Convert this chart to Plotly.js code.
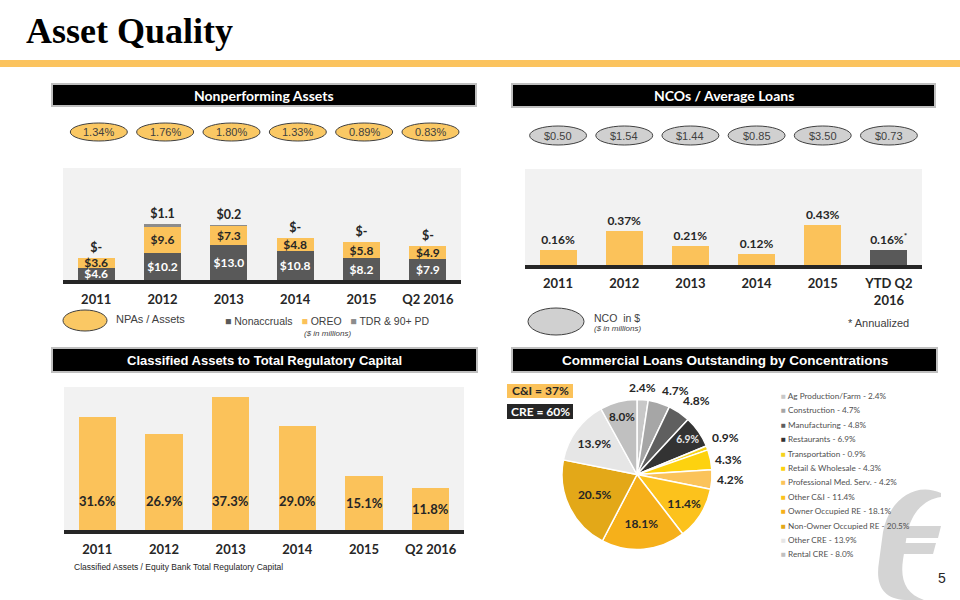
<!DOCTYPE html>
<html><head><meta charset="utf-8">
<script src="https://cdn.plot.ly/plotly-3.0.1.min.js"></script>
<style>body{margin:0;background:#fff}#chart{width:960px;height:600px}</style>
</head><body><div id="chart"></div>
<script>
// ---------- DATA ----------
const years = ['2011','2012','2013','2014','2015','Q2 2016'];
const ncoYears = ['2011','2012','2013','2014','2015','YTD Q2<br>2016'];
const npaRatio = ['1.34%','1.76%','1.80%','1.33%','0.89%','0.83%'];
const nonaccruals = [4.6,10.2,13.0,10.8,8.2,7.9];
const oreo = [3.6,9.6,7.3,4.8,5.8,4.9];
const tdr = [0,1.1,0.2,0,0,0];
const ncoDollars = ['$0.50','$1.54','$1.44','$0.85','$3.50','$0.73'];
const ncoPct = [0.16,0.37,0.21,0.12,0.43,0.16];
const classified = [31.6,26.9,37.3,29.0,15.1,11.8];
const pieLabels = ['Ag Production/Farm','Construction','Manufacturing','Restaurants','Transportation','Retail & Wholesale','Professional Med. Serv.','Other C&I','Owner Occupied RE','Non-Owner Occupied RE','Other CRE','Rental CRE'];
const pieValues = [2.4,4.7,4.8,6.9,0.9,4.3,4.2,11.4,18.1,20.5,13.9,8.0];
const pieColors = ['#c8c8c8','#a6a6a6','#5f5f5f','#333333','#f5d31c','#fdd20f','#fbc35a','#fcc21c','#f6b01a','#e3a818','#e6e6e6','#c0c0c0'];
const pieInside = [false,false,false,true,false,false,false,true,true,true,true,true];

// ---------- HELPERS ----------
const W = 960, H = 600;
const px = x => x / W;
const py = y => 1 - y / H;
const ORANGE = '#fbc25a';
const DARK = '#262626';
const fmt1 = v => v === 0 ? '$-' : '$' + v.toFixed(1);
const boldFont = (size, color) => ({family: 'Lato, Arial', size: size, color: color, weight: 'bold'});
const arial = (size, color, extra) => Object.assign({family:'Liberation Sans, Arial', size:size, color:color}, extra || {});

// pie geometry (domain in pixels)
const PIE = {x0:562, x1:712, y0:399, y1:550};
const pieCx = (PIE.x0 + PIE.x1) / 2, pieCy = (PIE.y0 + PIE.y1) / 2, pieR = (PIE.x1 - PIE.x0) / 2;

// ---------- TRACES ----------
const traces = [
  {type:'bar', x: years, y: nonaccruals, name:'Nonaccruals', xaxis:'x', yaxis:'y',
   marker:{color:'#595959'}, text: nonaccruals.map(fmt1), textposition:'inside', insidetextanchor:'middle',
   constraintext:'none', textangle:0, textfont: boldFont(12,'#ffffff'), hoverinfo:'skip', showlegend:false},
  {type:'bar', x: years, y: oreo, name:'OREO', xaxis:'x', yaxis:'y',
   marker:{color:ORANGE}, text: oreo.map(fmt1), textposition:'inside', insidetextanchor:'middle',
   constraintext:'none', textangle:0, textfont: boldFont(12,DARK), hoverinfo:'skip', showlegend:false},
  {type:'bar', x: years, y: tdr, name:'TDR & 90+ PD', xaxis:'x', yaxis:'y',
   marker:{color:'#8c8c8c'}, text: tdr.map(fmt1), textposition:'outside',
   constraintext:'none', textangle:0, textfont: boldFont(12.5,DARK), cliponaxis:false, hoverinfo:'skip', showlegend:false},
  {type:'bar', x: ncoYears, y: ncoPct, xaxis:'x2', yaxis:'y2',
   marker:{color: ncoPct.map((v,i)=> i === ncoPct.length-1 ? '#595959' : ORANGE)},
   text: ncoPct.map((v,i)=> v.toFixed(2) + '%' + (i === ncoPct.length-1 ? '<sup>*</sup>' : '')),
   textposition:'outside', constraintext:'none', textangle:0, textfont: boldFont(12,DARK), cliponaxis:false,
   hoverinfo:'skip', showlegend:false},
  {type:'bar', x: years, y: classified, xaxis:'x3', yaxis:'y3',
   marker:{color:ORANGE}, hoverinfo:'skip', showlegend:false},
  {type:'pie', labels: pieLabels, values: pieValues, sort:false, direction:'clockwise', rotation:0,
   domain:{x:[px(PIE.x0), px(PIE.x1)], y:[py(PIE.y1), py(PIE.y0)]},
   marker:{colors: pieColors, line:{color:'#ffffff', width:1.5}},
   text: pieValues.map(v => v.toFixed(1) + '%'), textinfo:'text',
   textposition: pieInside.map(b => b ? 'inside' : 'none'),
   insidetextorientation:'horizontal',
   insidetextfont: {family:'Lato, Arial', size:12, weight:'bold', color: pieColors.map(c => c === '#333333' ? '#e8e8e8' : DARK)},
   hoverinfo:'skip', showlegend:false}
];

// ---------- LAYOUT ----------
const xCommon = {type:'category', range:[-0.5,5.5], showline:true, linewidth:4, linecolor:DARK,
  ticks:'', showgrid:false, zeroline:false, fixedrange:true, tickfont: boldFont(13, DARK), ticklabelstandoff:4};
const yCommon = {showgrid:false, zeroline:false, showticklabels:false, showline:false, ticks:'', fixedrange:true};

const shapes = [];
const annotations = [];
const note = (o) => annotations.push(Object.assign({xref:'paper', yref:'paper', showarrow:false, xanchor:'center', yanchor:'middle'}, o));

// title + rule
note({text:'Asset Quality', x:px(24), y:py(31), xanchor:'left', font:{family:'Liberation Serif, serif', size:36, color:'#000', weight:'bold'}});
shapes.push({type:'rect', xref:'paper', yref:'paper', x0:0, x1:1, y0:py(67), y1:py(60), fillcolor:'#fbc35e', line:{width:0}});

// headers
const headers = [
  {t:'Nonperforming Assets', x0:52, x1:476, y0:84, y1:106, f:'Lato, Arial', s:14},
  {t:'NCOs / Average Loans', x0:512, x1:935, y0:84, y1:107, f:'Lato, Arial', s:14},
  {t:'Classified Assets to Total Regulatory Capital', x0:52, x1:477, y0:348, y1:372, f:'Liberation Sans, Arial', s:13},
  {t:'Commercial Loans Outstanding by Concentrations', x0:512, x1:937, y0:348, y1:372, f:'Liberation Sans, Arial', s:13.5}
];
headers.forEach(h => {
  shapes.push({type:'rect', xref:'paper', yref:'paper', x0:px(h.x0), x1:px(h.x1), y0:py(h.y1), y1:py(h.y0),
    fillcolor:'#000', line:{color:'#bfbfbf', width:2}});
  note({text:h.t, x:px((h.x0+h.x1)/2), y:py((h.y0+h.y1)/2), font:{family:h.f, size:h.s, color:'#fff', weight:'bold'}});
});

// NPA ellipses
npaRatio.forEach((t,i) => {
  shapes.push({type:'circle', xref:'x', yref:'paper', x0:i-0.43+0.04, x1:i+0.43+0.04, y0:py(141), y1:py(123),
    fillcolor:'#fac864', line:{color:'#404040', width:1}});
  note({text:t, xref:'x', x:i+0.04, y:py(132), font: arial(11,'#404040')});
});
// NCO ellipses
ncoDollars.forEach((t,i) => {
  shapes.push({type:'circle', xref:'x2', yref:'paper', x0:i-0.43, x1:i+0.43, y0:py(145), y1:py(126),
    fillcolor:'#d0d0d0', line:{color:'#404040', width:1}});
  note({text:t, xref:'x2', x:i, y:py(135.5), font: arial(11,'#404040')});
});

// NPA legend
shapes.push({type:'circle', xref:'paper', yref:'paper', x0:px(63), x1:px(107), y0:py(331), y1:py(310), fillcolor:'#fac864', line:{color:'#404040', width:1}});
note({text:'NPAs / Assets', x:px(114), y:py(319), xanchor:'left', font: arial(11,'#404040')});
const npaSeries = [['Nonaccruals','#595959'],['OREO',ORANGE],['TDR & 90+ PD','#8c8c8c']];
note({text: npaSeries.map(s => '<span style="color:'+s[1]+'">■</span> ' + s[0]).join('   '),
  x:px(223), y:py(321), xanchor:'left', font: arial(10.5,'#404040')});
note({text:'($ in millions)', x:px(327), y:py(333), font: arial(8,'#404040',{style:'italic'})});

// NCO legend
shapes.push({type:'circle', xref:'paper', yref:'paper', x0:px(528), x1:px(584), y0:py(335), y1:py(308), fillcolor:'#d0d0d0', line:{color:'#404040', width:1}});
note({text:'NCO  in $', x:px(592), y:py(318), xanchor:'left', font: arial(10.5,'#404040')});
note({text:'($ in millions)', x:px(592), y:py(328), xanchor:'left', font: arial(8,'#404040',{style:'italic'})});
note({text:'* Annualized', x:px(846), y:py(323), xanchor:'left', font: arial(11,'#404040')});

// Classified labels (inside bars, near base)
classified.forEach((v,i) => {
  note({text: v.toFixed(1) + '%', xref:'x3', yref:'y3', x:i, y:Math.min(v/2, 8), font: boldFont(13, DARK)});
});
note({text:'Classified Assets / Equity Bank Total Regulatory Capital', x:px(72), y:py(567), xanchor:'left', font: arial(8.5,'#262626')});

// C&I / CRE boxes
shapes.push({type:'rect', xref:'paper', yref:'paper', x0:px(507), x1:px(573), y0:py(398), y1:py(384), fillcolor:'#fbc25a', line:{width:0}});
shapes.push({type:'rect', xref:'paper', yref:'paper', x0:px(507), x1:px(573), y0:py(419), y1:py(404), fillcolor:'#262626', line:{width:0}});
note({text:'C&I = 37%', x:px(540), y:py(391), font: boldFont(12, DARK)});
note({text:'CRE = 60%', x:px(540), y:py(411.5), font: boldFont(12, '#ffffff')});

// Pie outside labels (small slices), placed just outside each slice's mid-angle
const pieTotal = pieValues.reduce((a,b)=>a+b, 0);
let cum = 0;
pieValues.forEach((v,i) => {
  const th = 2 * Math.PI * (cum + v/2) / pieTotal;
  cum += v;
  if (pieInside[i]) return;
  const s = Math.sin(th), c = Math.cos(th);
  const r = pieR + 3;
  note({text: v.toFixed(1) + '%', x: px(pieCx + r * s), y: py(pieCy - r * c),
    xanchor: Math.abs(s) < 0.17 ? 'center' : (s > 0 ? 'left' : 'right'),
    yanchor: c > 0.3 ? 'bottom' : (c < -0.3 ? 'top' : 'middle'),
    font: boldFont(12, DARK)});
});

// Pie legend
pieLabels.forEach((l,i) => {
  note({text:'<span style="color:'+pieColors[i]+'">■</span> ' + l + ' - ' + pieValues[i].toFixed(1) + '%',
    x:px(779), y:py(396 + i*14.4), xanchor:'left', font:{family:'Lato, Arial', size:8.2, color:'#505050'}});
});

// Logo watermark (stylised slanted "e")
const P = (x,y) => px(x).toFixed(4) + ',' + py(y).toFixed(4);
const LOGO = '#d4d4d4';
shapes.push({type:'path', xref:'paper', yref:'paper', layer:'below', fillcolor:LOGO, line:{width:0},
  path:'M'+P(941,493)+' C'+P(915,481)+' '+P(889,500)+' '+P(883,532)+' L'+P(879,562)+' C'+P(875,586)+' '+P(884,599)+' '+P(905,600)+
       ' L'+P(924,600)+' C'+P(906,594)+' '+P(900,580)+' '+P(903,560)+' L'+P(907,534)+' C'+P(912,510)+' '+P(926,499)+' '+P(941,497)+' Z'});
shapes.push({type:'path', xref:'paper', yref:'paper', layer:'below', fillcolor:LOGO, line:{width:0},
  path:'M'+P(888,526)+' L'+P(941,526)+' L'+P(938,538)+' L'+P(885,538)+' Z'});
shapes.push({type:'path', xref:'paper', yref:'paper', layer:'below', fillcolor:LOGO, line:{width:0},
  path:'M'+P(884,543)+' L'+P(936,543)+' L'+P(933,554)+' L'+P(881,554)+' Z'});
note({text:'5', x:px(942), y:py(578), font: arial(14,'#262626')});

const layout = {
  width: W, height: H, margin:{l:0, r:0, t:0, b:0},
  paper_bgcolor:'#ffffff', plot_bgcolor:'#f2f2f2',
  barmode:'stack', bargap:0.44, showlegend:false,
  font:{family:'Lato, Arial', color:DARK},
  xaxis: Object.assign({}, xCommon, {domain:[px(63), px(461)], anchor:'y'}),
  yaxis: Object.assign({}, yCommon, {domain:[py(280), py(168)], range:[0, 41.8], anchor:'x'}),
  xaxis2: Object.assign({}, xCommon, {domain:[px(525), px(922)], anchor:'y2', ticklabelstandoff:3}),
  yaxis2: Object.assign({}, yCommon, {domain:[py(265), py(169)], range:[0, 1.04], anchor:'x2'}),
  xaxis3: Object.assign({}, xCommon, {domain:[px(64), px(464)], anchor:'y3'}),
  yaxis3: Object.assign({}, yCommon, {domain:[py(530), py(387)], range:[0, 40], anchor:'x3'}),
  shapes: shapes, annotations: annotations
};

Plotly.newPlot('chart', traces, layout, {displayModeBar:false, staticPlot:true});
</script>
</body></html>
